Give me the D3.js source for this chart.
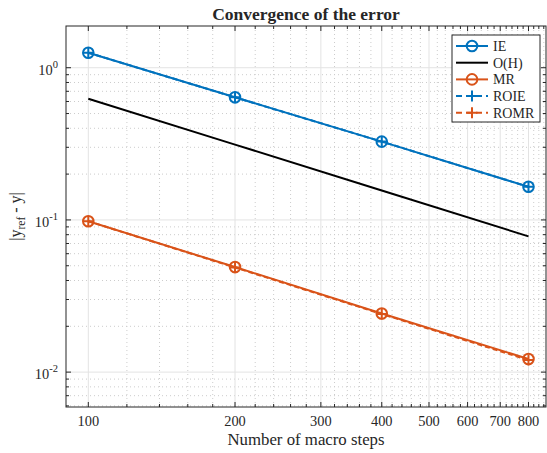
<!DOCTYPE html>
<html>
<head>
<meta charset="utf-8">
<script src="https://cdn.jsdelivr.net/npm/d3@7"></script>
<style>
  body { margin: 0; background: #fff; }
  svg text { font-family: "Liberation Serif", "Times New Roman", serif; fill: #262626; }
</style>
</head>
<body>
<div id="chart"></div>
<script>
"use strict";

// macro steps
const steps = [100, 200, 400, 800];

// error series
const errIE = [1.255, 0.639, 0.327, 0.165];
const errOH = [0.625, 0.3125, 0.156, 0.078];
const errMR = [0.098, 0.049, 0.0243, 0.0122];
const errROIE = [1.255, 0.639, 0.327, 0.165];
const errROMR = [0.098, 0.0487, 0.0241, 0.0120];

const xTickValues = [100, 200, 300, 400, 500, 600, 700, 800];
const yTickValues = [0.01, 0.1, 1];
const yTickExp = ["-2", "-1", "0"];

const series = [
  { name: "IE", values: errIE, color: "#0072BD", dash: null, marker: "o" },
  { name: "O(H)", values: errOH, color: "#000000", dash: null, marker: null },
  { name: "MR", values: errMR, color: "#D95319", dash: null, marker: "o" },
  { name: "ROIE", values: errROIE, color: "#0072BD", dash: "5,3", marker: "+" },
  { name: "ROMR", values: errROMR, color: "#D95319", dash: "5,3", marker: "+" },
];

const W = 547, H = 453;
const m = { left: 66, right: 1, top: 26, bottom: 46 };
const iw = W - m.left - m.right;
const ih = H - m.top - m.bottom;

const svg = d3.select("#chart").append("svg").attr("width", W).attr("height", H);
const g = svg.append("g").attr("transform", `translate(${m.left},${m.top})`);

const x = d3.scaleLog().domain([90, 869]).range([0, iw]);
const y = d3.scaleLog().domain([0.0059, 1.88]).range([ih, 0]);

// minor ticks
const xMinor = d3.range(120, 869, 20).filter((v) => v % 100 !== 0);
const yMinor = [];
[0.001, 0.01, 0.1, 1].forEach((d) => {
  for (let k = 2; k <= 9; k++) {
    const v = d * k;
    if (v > 0.0059 && v < 1.88) yMinor.push(v);
  }
});

// grid
const grid = g.append("g");
grid.selectAll(".xminor").data(xMinor).enter().append("line")
  .attr("x1", (d) => x(d)).attr("x2", (d) => x(d)).attr("y1", 0).attr("y2", ih)
  .attr("stroke", "#cccccc").attr("stroke-dasharray", "1,3");
grid.selectAll(".yminor").data(yMinor).enter().append("line")
  .attr("y1", (d) => y(d)).attr("y2", (d) => y(d)).attr("x1", 0).attr("x2", iw)
  .attr("stroke", "#cccccc").attr("stroke-dasharray", "1,3");
grid.selectAll(".xmajor").data(xTickValues).enter().append("line")
  .attr("x1", (d) => x(d)).attr("x2", (d) => x(d)).attr("y1", 0).attr("y2", ih)
  .attr("stroke", "#e3e3e3");
grid.selectAll(".ymajor").data(yTickValues).enter().append("line")
  .attr("y1", (d) => y(d)).attr("y2", (d) => y(d)).attr("x1", 0).attr("x2", iw)
  .attr("stroke", "#e3e3e3");

// series
const line = d3.line().x((d, i) => x(steps[i])).y((d) => y(d));
series.forEach((s) => {
  g.append("path").datum(s.values)
    .attr("d", line).attr("fill", "none")
    .attr("stroke", s.color).attr("stroke-width", 2)
    .attr("stroke-dasharray", s.dash);
  drawMarkers(g, s, s.values.map((v, i) => [x(steps[i]), y(v)]));
});

function drawMarkers(parent, s, pts) {
  pts.forEach(([px, py]) => drawMarker(parent, s, px, py));
}

function drawMarker(parent, s, px, py) {
  if (s.marker === "o") {
    parent.append("circle").attr("cx", px).attr("cy", py).attr("r", 5.3)
      .attr("fill", "none").attr("stroke", s.color).attr("stroke-width", 2);
  } else if (s.marker === "+") {
    parent.append("path")
      .attr("d", `M${px - 5.5},${py}H${px + 5.5}M${px},${py - 5.5}V${py + 5.5}`)
      .attr("stroke", s.color).attr("stroke-width", 2);
  }
}

// axes box and ticks (inside, on all four sides)
const axisColor = "#262626";
g.append("rect").attr("width", iw).attr("height", ih)
  .attr("fill", "none").attr("stroke", axisColor).attr("stroke-width", 1);

const ticks = g.append("g").attr("stroke", axisColor).attr("stroke-width", 1);
function xTick(v, len) {
  ticks.append("line").attr("x1", x(v)).attr("x2", x(v)).attr("y1", ih).attr("y2", ih - len);
  ticks.append("line").attr("x1", x(v)).attr("x2", x(v)).attr("y1", 0).attr("y2", len);
}
function yTick(v, len) {
  ticks.append("line").attr("y1", y(v)).attr("y2", y(v)).attr("x1", 0).attr("x2", len);
  ticks.append("line").attr("y1", y(v)).attr("y2", y(v)).attr("x1", iw).attr("x2", iw - len);
}
xTickValues.forEach((v) => xTick(v, 5));
xMinor.forEach((v) => xTick(v, 3));
yTickValues.forEach((v) => yTick(v, 5));
yMinor.forEach((v) => yTick(v, 3));

// tick labels
g.selectAll(".xlab").data(xTickValues).enter().append("text")
  .attr("x", (d) => x(d)).attr("y", ih + 19)
  .attr("text-anchor", "middle").attr("font-size", 14.4)
  .text((d) => d);

yTickValues.forEach((v, i) => {
  const t = g.append("text").attr("x", -8).attr("y", y(v) + 7)
    .attr("text-anchor", "end").attr("font-size", 14.4);
  t.append("tspan").text("10");
  t.append("tspan").attr("dy", -7).attr("font-size", 10.5).text(yTickExp[i]);
});

// title and axis labels
svg.append("text").attr("x", m.left + iw / 2).attr("y", 20)
  .attr("text-anchor", "middle").attr("font-size", 17.5).attr("font-weight", "bold")
  .text("Convergence of the error");

svg.append("text").attr("x", m.left + iw / 2).attr("y", 445)
  .attr("text-anchor", "middle").attr("font-size", 16.8)
  .text("Number of macro steps");

const yl = svg.append("text")
  .attr("transform", `translate(21,${m.top + ih / 2}) rotate(-90)`)
  .attr("text-anchor", "middle").attr("font-size", 16);
yl.append("tspan").text("|y");
yl.append("tspan").attr("dy", 4).attr("font-size", 11.5).text("ref");
yl.append("tspan").attr("dy", -4).text(" - y|");

// legend
const lg = svg.append("g").attr("transform", "translate(452,35)");
lg.append("rect").attr("width", 88).attr("height", 87)
  .attr("fill", "#fff").attr("stroke", axisColor).attr("stroke-width", 1);
series.forEach((s, i) => {
  const cy = 11 + i * 16.7;
  lg.append("line").attr("x1", 4).attr("x2", 36).attr("y1", cy).attr("y2", cy)
    .attr("stroke", s.color).attr("stroke-width", 2)
    .attr("stroke-dasharray", s.dash ? "6,4" : null);
  drawMarker(lg, s, 20, cy);
  lg.append("text").attr("x", 41).attr("y", cy + 5)
    .attr("font-size", 14).text(s.name);
});
</script>
</body>
</html>
